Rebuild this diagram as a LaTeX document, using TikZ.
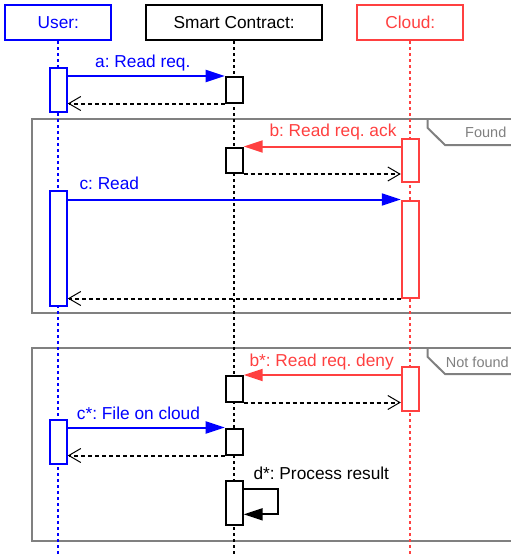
\documentclass[tikz,border=0pt]{standalone}
\usepackage{fontspec}
\setmainfont{Liberation Sans}
\usetikzlibrary{arrows.meta,calc}
\definecolor{cred}{RGB}{255,64,64}
\definecolor{cblue}{RGB}{0,0,255}
\definecolor{cgray}{RGB}{128,128,128}
\frenchspacing
\begin{document}
\begin{tikzpicture}[x=1pt,y=-1pt,
  headbox/.style={draw, line width=2pt, minimum height=35pt, inner sep=0pt, font=\fontsize{17.3}{20}\selectfont},
  actbox/.style={draw, fill=white, line width=2pt, minimum width=17pt, inner sep=0pt, anchor=north},
  msg/.style={line width=2pt, -{Triangle[length=19pt,width=12pt]}},
  ret/.style={black, line width=2pt, dash pattern=on 4pt off 3pt, -{Straight Barb[length=12pt,width=14pt,line width=1pt]}},
  life/.style={line width=2pt, dash pattern=on 3pt off 3pt},
  lbl/.style={anchor=base west, inner sep=0pt, font=\fontsize{17.3}{20}\selectfont},
  tablbl/.style={anchor=base west, inner sep=0pt, text=cgray, font=\fontsize{14.5}{17}\selectfont},
  framel/.style={cgray, line width=2pt}]
\useasboundingbox (0,0) rectangle (511,554);
\clip (0,0) rectangle (511,554);

% frames
\draw[framel] (32,119.3) rectangle (530,313);
\draw[framel] (427.7,119.3) -- (427.7,128) -- (445,145) -- (530,145);
\node[tablbl] (tfound) at (465,137.3) {Found};
\draw[framel] (32,348.3) rectangle (530,541);
\draw[framel] (427.7,348.3) -- (427.7,357) -- (445,374) -- (530,374);
\node[tablbl] (tnotfound) at (445.7,367.3) {Not found};

% heads
\node[headbox, draw=cblue, text=cblue, minimum width=106pt] (user) at (58.3,22.5) {User:};
\node[headbox, draw=black, minimum width=176pt] (sc) at (234.2,22.5) {Smart Contract:};
\node[headbox, draw=cred, text=cred, minimum width=106pt] (cloud) at (410.3,22.5) {Cloud:};

% lifelines
\coordinate (ub) at (58.3,560);
\coordinate (sb) at (234.2,560);
\coordinate (cb) at (410.3,560);
\draw[life, cblue] (user.south) -- (ub);
\draw[life, black] (sc.south) -- (sb);
\draw[life, cred] (cloud.south) -- (cb);

% activation boxes
\node[actbox, draw=cblue, minimum height=44pt] (u1) at (58.3,66.7) {};
\node[actbox, draw=black, minimum height=25.5pt] (s1) at (234.2,76) {};
\node[actbox, draw=cred, minimum height=43.5pt] (c1) at (410.3,137.5) {};
\node[actbox, draw=black, minimum height=25.5pt] (s2) at (234.2,146.5) {};
\node[actbox, draw=cblue, minimum height=115pt] (u2) at (58.3,190) {};
\node[actbox, draw=cred, minimum height=97pt] (c2) at (410.3,199.5) {};
\node[actbox, draw=cred, minimum height=44pt] (c3) at (410.3,365.5) {};
\node[actbox, draw=black, minimum height=25.5pt] (s3) at (234.2,375) {};
\node[actbox, draw=cblue, minimum height=44pt] (u3) at (58.3,418.5) {};
\node[actbox, draw=black, minimum height=26pt] (s4) at (234.2,427.5) {};
\node[actbox, draw=black, minimum height=44pt] (s5) at (234.2,479.5) {};

% messages
\draw[msg, cblue] (u1.east |- s1.north) -- (s1.north west);
\node[lbl, text=cblue] (la) at (95,67) {a: Read req.};
\draw[ret] (s1.south west) -- (u1.east |- s1.south west);

\draw[msg, cred] (c1.west |- s2.north) -- (s2.north east);
\node[lbl, text=cred] (lb) at (269.3,136) {b: Read req. ack};
\draw[ret] (s2.south east) -- (c1.west |- s2.south east);

\draw[msg, cblue] (u2.east |- c2.north) -- (c2.north west);
\node[lbl, text=cblue] (lc) at (79.3,189.3) {c: Read};
\draw[ret] (c2.south west) -- (u2.east |- c2.south west);

\draw[msg, cred] (c3.west |- s3.north) -- (s3.north east);
\node[lbl, text=cred] (lbs) at (249.3,366) {b*: Read req. deny};
\draw[ret] (s3.south east) -- (c3.west |- s3.south east);

\draw[msg, cblue] (u3.east |- s4.north) -- (s4.north west);
\node[lbl, text=cblue] (lcs) at (76.7,419) {c*: File on cloud};
\draw[ret] (s4.south west) -- (u3.east |- s4.south west);

\coordinate (d1) at (278.3,488.5);
\coordinate (d2) at (278.3,514.3);
\draw[msg, black] ($(s5.north east)+(0,9)$) -- (d1) -- (d2) -- (s5.east |- d2);
\node[lbl, text=black] (lds) at (253.3,479) {d*: Process result};
\end{tikzpicture}
\end{document}
